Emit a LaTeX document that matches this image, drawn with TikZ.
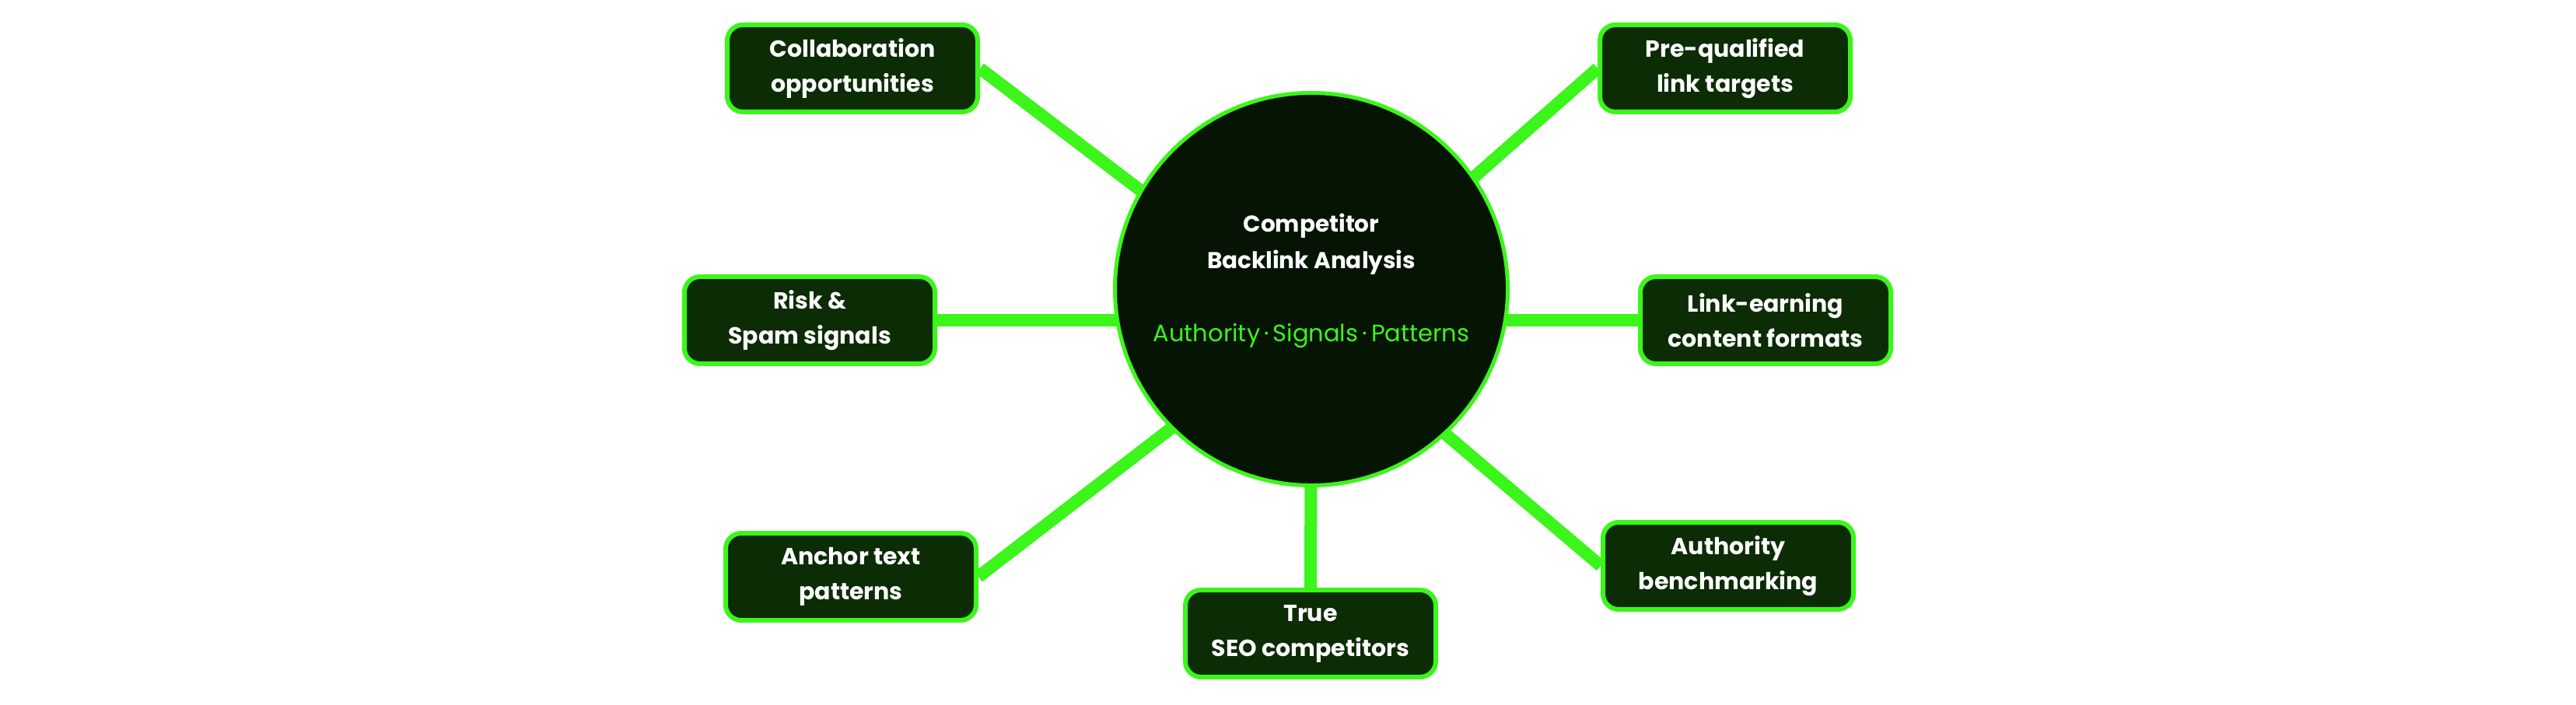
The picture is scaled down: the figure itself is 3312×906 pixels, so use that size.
\documentclass[tikz,border=0pt]{standalone}
\usepackage{fontspec}
\setmainfont{Poppins}
\usetikzlibrary{backgrounds}
\definecolor{neon}{HTML}{3CF51B}
\definecolor{boxfill}{HTML}{0B2C04}
\definecolor{hubfill}{HTML}{061403}
\tikzset{
  leaf/.style={draw=neon, line width=6pt, fill=boxfill, rounded corners=20pt,
    minimum width=322pt, minimum height=112pt, align=center, text=white,
    font=\fontsize{30}{45}\selectfont\bfseries, inner sep=0pt},
  hub/.style={circle, draw=neon, line width=5pt, fill=hubfill, minimum size=505pt,
    inner sep=0pt, align=center},
  link/.style={draw=neon, line width=16pt}
}
\begin{document}
\begin{tikzpicture}[x=1pt,y=1pt]
\useasboundingbox (0,0) rectangle (3312,906);
\coordinate (c) at (1686,494);
\node[hub] (hubnode) at (1686,534) {};
\node[align=center, text=white, font=\fontsize{29.5}{47}\selectfont\bfseries] (title) at (1686,592) {Competitor\\Backlink Analysis};
\node[text=neon, font=\fontsize{30.5}{40}\selectfont] (sub) at (1686,474) {Authority\,·\,Signals\,·\,Patterns};
\node[leaf] (collab) at (1096,818) {Collaboration\\opportunities};
\node[leaf] (pre) at (2218,818) {Pre-qualified\\link targets};
\node[leaf] (risk) at (1041,494) {Risk \&\\Spam signals};
\node[leaf] (linkearn) at (2270,494) {Link-earning\\content formats};
\node[leaf] (anchor) at (1094,164) {Anchor text\\patterns};
\node[leaf] (auth) at (2222,178) {Authority\\benchmarking};
\node[leaf] (true) at (1685,91) {True\\SEO competitors};
\begin{scope}[on background layer]
\fill[white] (0,0) rectangle (3312,906);
\draw[link] (collab.east) -- (c);
\draw[link] (pre.west) -- (c);
\draw[link] (risk.east) -- (c);
\draw[link] (linkearn.west) -- (c);
\draw[link] (anchor.east) -- (c);
\draw[link] (auth.west) -- (c);
\draw[link] (true.north) -- (c);
\end{scope}
\end{tikzpicture}
\end{document}
